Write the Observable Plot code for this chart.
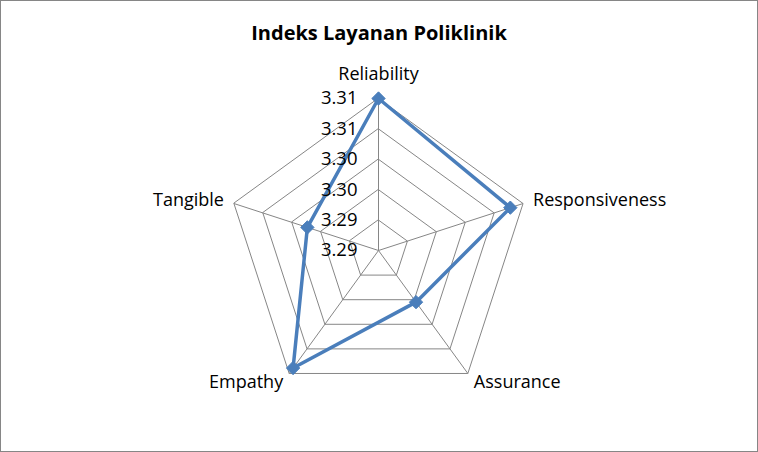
<!DOCTYPE html>
<html><head><meta charset="utf-8">
<script src="https://cdn.jsdelivr.net/npm/d3@7"></script>
<script src="https://cdn.jsdelivr.net/npm/@observablehq/plot@0.6"></script>
<style>
body{margin:0;background:#fff;}
#frame{position:relative;width:758px;height:452px;overflow:hidden;background:#fff;font-family:"Open Sans",Lato,sans-serif;}
#title{position:absolute;left:0;right:0;top:19px;text-align:center;font-weight:bold;font-size:20px;color:#000;line-height:28px;}
#chart{position:absolute;left:0;top:0;}
#border{position:absolute;left:0;top:0;width:758px;height:452px;box-sizing:border-box;border:1px solid #868686;pointer-events:none;}
</style></head>
<body>
<div id="frame"><div id="chart"></div><div id="title">Indeks Layanan Poliklinik</div><div id="border"></div></div>
<script>
const categories = ["Reliability", "Responsiveness", "Assurance", "Empathy", "Tangible"];
const values = [3.310, 3.3078, 3.2955, 3.3089, 3.2973];
const tickValues = [3.285, 3.290, 3.295, 3.300, 3.305, 3.310];
const tickLabels = ["3.29", "3.29", "3.30", "3.30", "3.31", "3.31"];

const n = categories.length;
const rMin = tickValues[0], rMax = tickValues[tickValues.length - 1];
const frac = d3.scaleLinear().domain([rMin, rMax]).range([0, 1]);
const ang = i => 2 * Math.PI * i / n;
const px = (i, f) => f * Math.sin(ang(i));
const py = (i, f) => f * Math.cos(ang(i));

const rings = [];
tickValues.slice(1).forEach((t, k) => {
  for (let i = 0; i < n; i++) rings.push({ring: k, x: px(i, frac(t)), y: py(i, frac(t))});
});
const spokes = categories.map((c, i) => ({x1: 0, y1: 0, x2: px(i, 1), y2: py(i, 1)}));
const series = categories.map((c, i) => ({cat: c, x: px(i, frac(values[i])), y: py(i, frac(values[i]))}));
const ticks = tickValues.map((t, k) => ({label: tickLabels[k], x: 0, y: py(0, frac(t))}));
const labels = categories.map((c, i) => ({cat: c, i, x: px(i, 1), y: py(i, 1), s: Math.sin(ang(i)), co: Math.cos(ang(i))}));

const W = 758, H = 452, R = 152, CX = 378, CY = 250;
const grid = "#868686", blue = "#4A7EBB";
const font = "'Open Sans', Lato, sans-serif";
const fs = 18;

const chart = Plot.plot({
  width: W, height: H,
  marginTop: 0, marginBottom: 0, marginLeft: 0, marginRight: 0,
  x: {domain: [-CX / R, (W - CX) / R], axis: null},
  y: {domain: [-(H - CY) / R, CY / R], axis: null},
  style: {background: "transparent", fontFamily: font, fontSize: "16px", color: "#000"},
  marks: [
    Plot.line(rings, {x: "x", y: "y", z: "ring", curve: "linear-closed", stroke: grid, strokeWidth: 1}),
    Plot.link(spokes, {x1: "x1", y1: "y1", x2: "x2", y2: "y2", stroke: grid, strokeWidth: 1}),
    Plot.line(series, {x: "x", y: "y", curve: "linear-closed", stroke: blue, strokeWidth: 3.5}),
    Plot.dot(series, {x: "x", y: "y", symbol: "diamond2", r: 6, fill: blue, stroke: blue, strokeWidth: 1}),
    Plot.text(ticks, {x: "x", y: "y", text: "label", textAnchor: "end", dx: -21, fontSize: 18.5, fill: "#000"}),
    Plot.text(labels.filter(d => Math.abs(d.s) < 0.01), {x: "x", y: "y", text: "cat", textAnchor: "middle", dy: -24, fontSize: fs, fill: "#000"}),
    Plot.text(labels.filter(d => d.s > 0.01 && d.co > 0), {x: "x", y: "y", text: "cat", textAnchor: "start", dx: 10, dy: -3, fontSize: fs, fill: "#000"}),
    Plot.text(labels.filter(d => d.s < -0.01 && d.co > 0), {x: "x", y: "y", text: "cat", textAnchor: "end", dx: -10, dy: -3, fontSize: fs, fill: "#000"}),
    Plot.text(labels.filter(d => d.s > 0.01 && d.co < 0), {x: "x", y: "y", text: "cat", textAnchor: "start", dx: 6, dy: 9, fontSize: fs, fill: "#000"}),
    Plot.text(labels.filter(d => d.s < -0.01 && d.co < 0), {x: "x", y: "y", text: "cat", textAnchor: "end", dx: -6, dy: 9, fontSize: fs, fill: "#000"})
  ]
});
document.getElementById("chart").appendChild(chart);
</script>
</body></html>
